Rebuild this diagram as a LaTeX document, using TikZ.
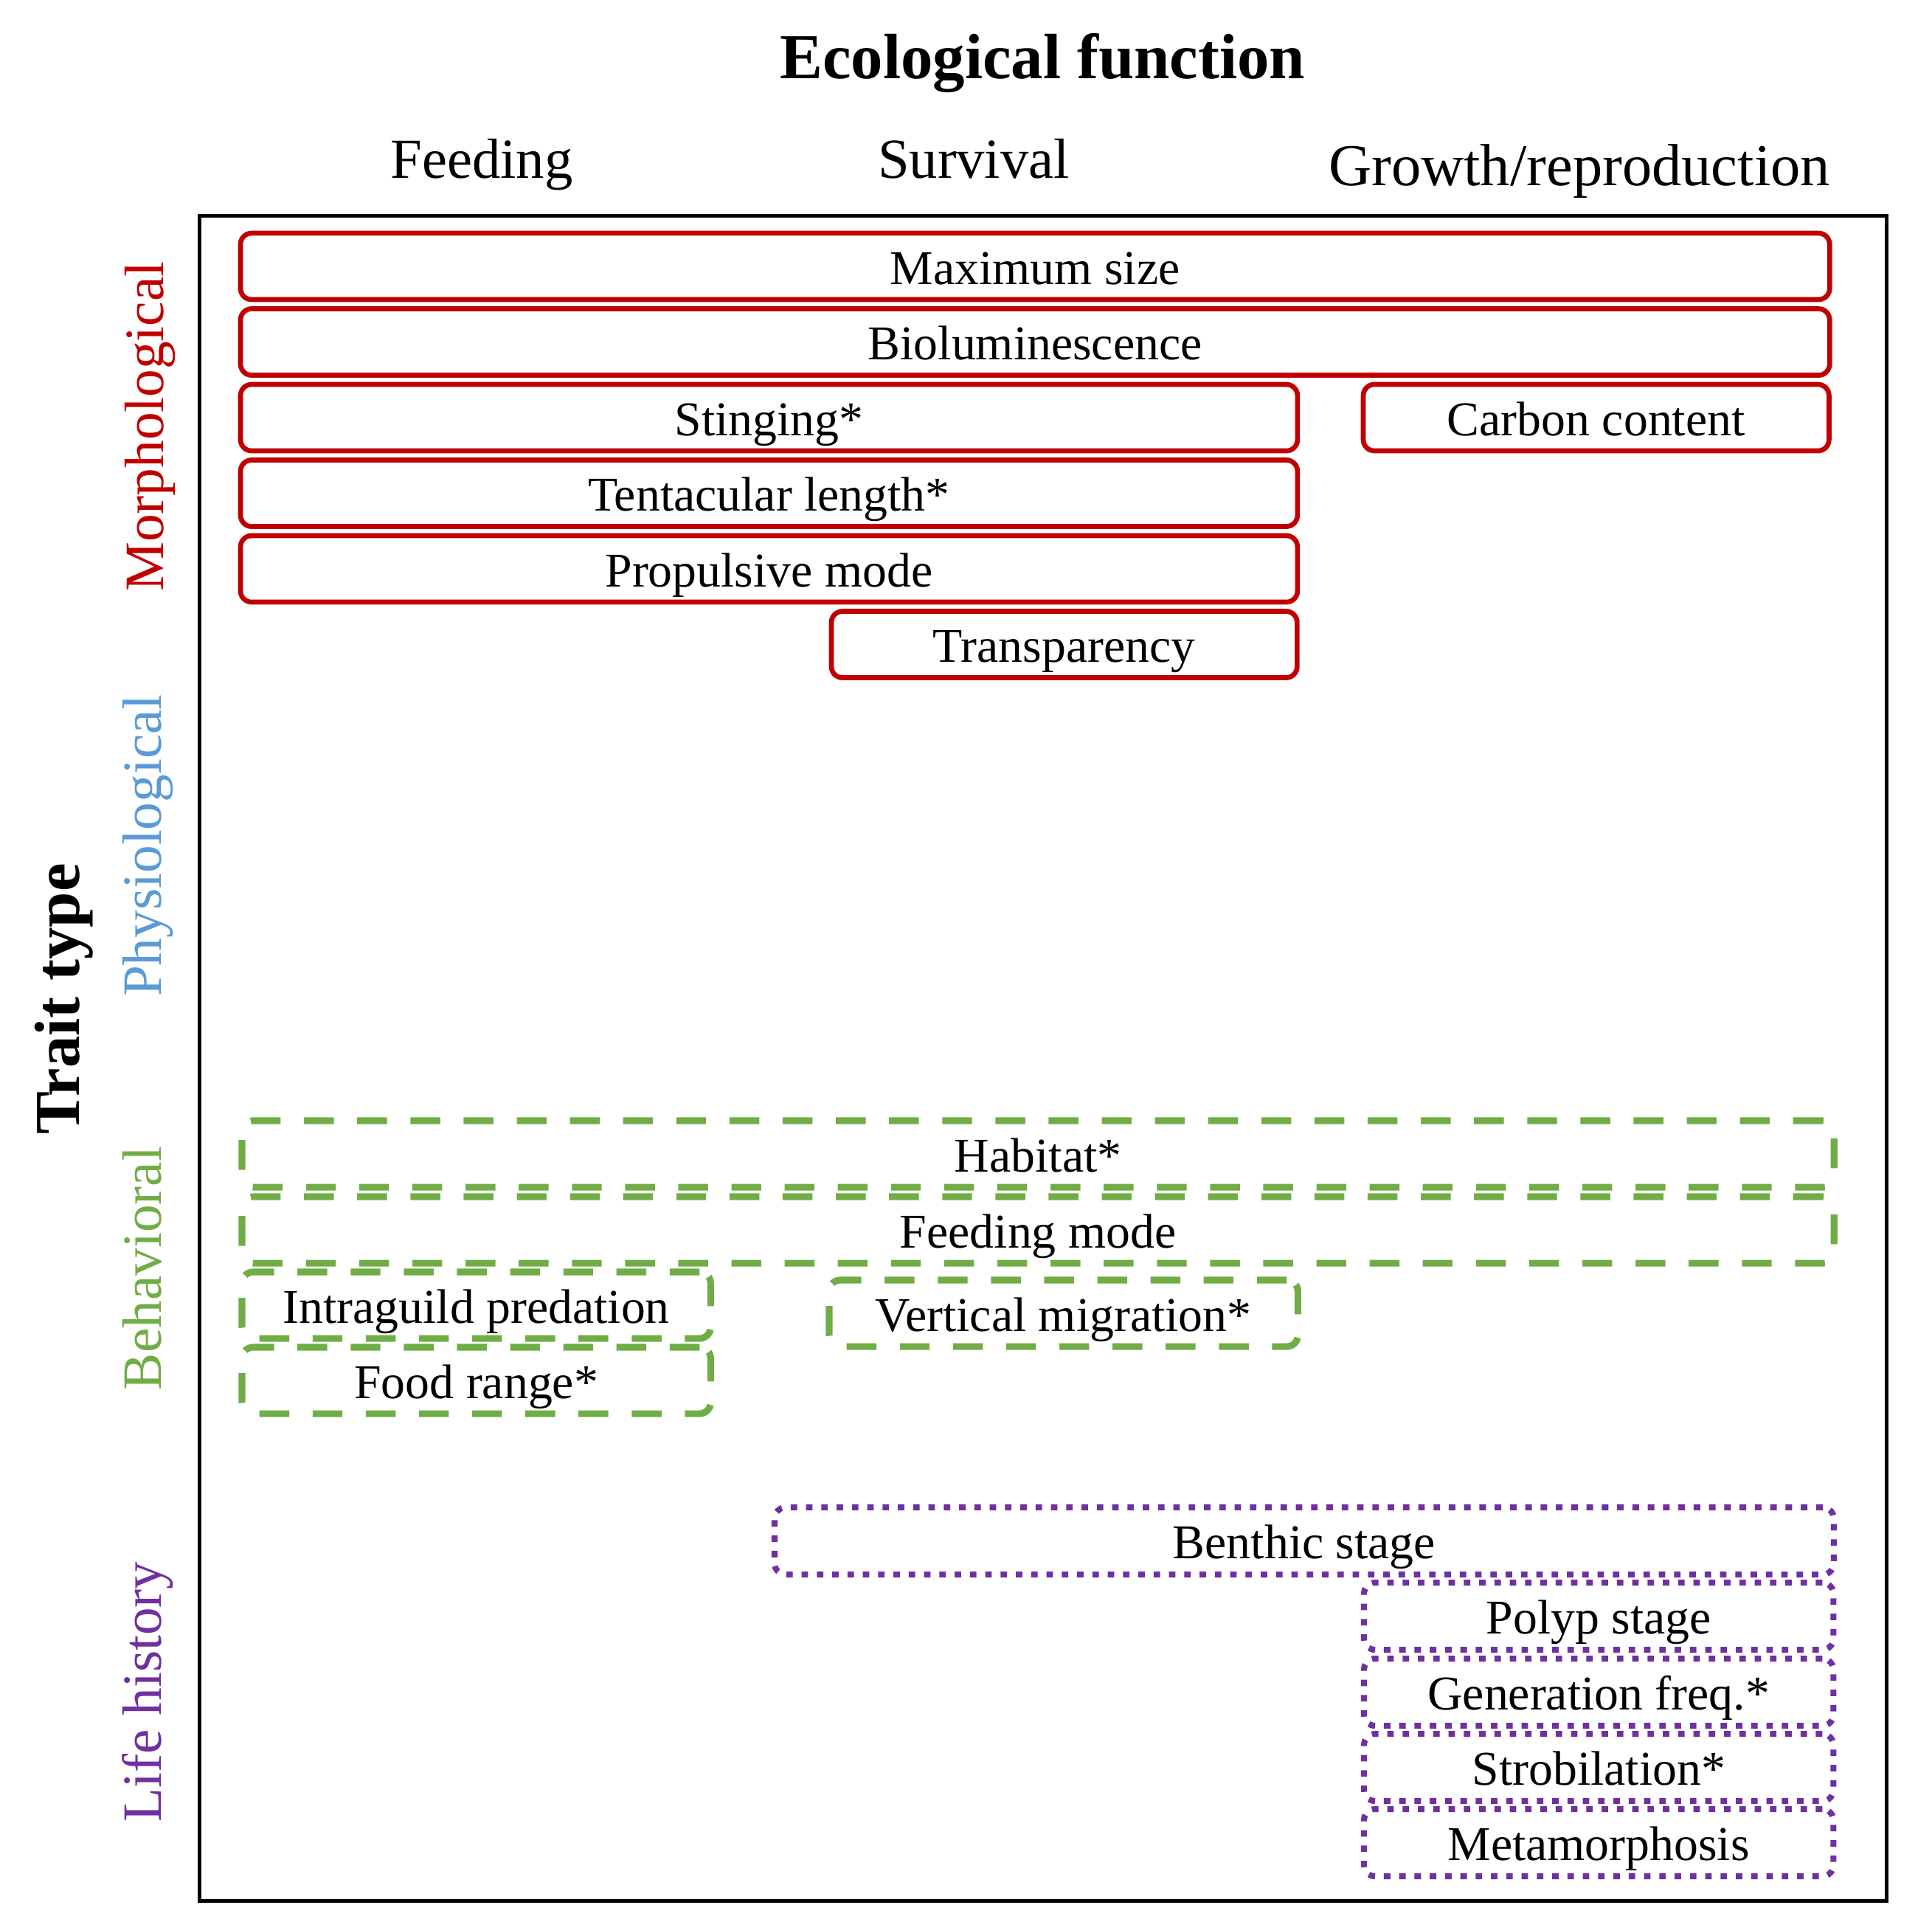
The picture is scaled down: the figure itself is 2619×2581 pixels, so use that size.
\documentclass[tikz,border=0pt]{standalone}
\usepackage{fontspec}
\setmainfont{Liberation Serif}
\usepackage{xcolor}
\usepackage{tikz}
\usetikzlibrary{positioning}
\definecolor{MorphRed}{HTML}{C00000}
\definecolor{PhysBlue}{HTML}{5B9BD5}
\definecolor{BehavGreen}{HTML}{70AD47}
\definecolor{LifePurple}{HTML}{7030A0}
\newcommand{\cellfont}{\fontsize{18.7}{22}\selectfont}
\newcommand{\colfont}{\fontsize{21.8}{26}\selectfont}
\newcommand{\sidefont}{\fontsize{21.4}{26}\selectfont}
\newcommand{\bigfont}{\fontsize{24.7}{29}\selectfont\bfseries}

\begin{document}
\begin{tikzpicture}[
  x=0.01cm, y=-0.01cm,
  cell/.style={rounded corners=4.3pt,inner sep=0pt,outer sep=0pt,anchor=north west,
    minimum height=0.9cm,font=\cellfont,text height=13.8pt,text depth=0pt},
  morph/.style={cell,draw=MorphRed,line width=1.9pt},
  behav/.style={cell,draw=BehavGreen,line width=2.6pt,dash pattern=on 11.5pt off 9pt},
  life/.style={cell,draw=LifePurple,line width=2.3pt,dash pattern=on 2.5pt off 3.4pt,minimum height=0.91cm},
  header/.style={anchor=base,font=\colfont},
  typelabel/.style={rotate=90,anchor=base,font=\sidefont}
]
  \useasboundingbox (0,0) rectangle (2619,2581);

  % axis titles
  \node[anchor=base,font=\bigfont] (ecofun) at (1413,106) {Ecological function};
  \node[anchor=base,font=\bigfont,rotate=90] (traittype) at (107,1354) {Trait type};
  \node[header] (feeding) at (653,241) {Feeding};
  \node[header] (survival) at (1320,241) {Survival};
  \node[header,font=\fontsize{22.9}{27}\selectfont] (growth) at (2141,251) {Growth/reproduction};

  \node[typelabel,text=MorphRed] (morphlab) at (221,578) {Morphological};
  \node[typelabel,text=PhysBlue] (physlab) at (218,1146) {Physiological};
  \node[typelabel,text=BehavGreen] (behavlab) at (218,1719) {Behavioral};
  \node[typelabel,text=LifePurple] (lifelab) at (218,2293) {Life history};

  \draw[line width=1.42pt] (270.5,292.5) rectangle (2557.5,2576);

  % morphological traits
  \node[morph,minimum width=21.53cm] (maxsize) at (326,316) {Maximum size};
  \node[morph,minimum width=21.53cm] (biolum) at (326,418.5) {Bioluminescence};
  \node[morph,minimum width=14.32cm] (sting) at (326,521) {Stinging*};
  \node[morph,minimum width=6.31cm] (carbon) at (1848,521) {Carbon content};
  \node[morph,minimum width=14.32cm] (tentacle) at (326,623.5) {Tentacular length*};
  \node[morph,minimum width=14.32cm] (propulsion) at (326,726) {Propulsive mode};
  \node[morph,minimum width=6.31cm] (transp) at (1127,828.5) {Transparency};

  % behavioral traits
  \node[behav,minimum width=21.57cm] (habitat) at (328,1519) {Habitat*};
  \node[behav,minimum width=21.57cm] (feedmode) at (328,1622) {Feeding mode};
  \node[behav,minimum width=6.35cm] (intraguild) at (328,1724) {Intraguild predation};
  \node[behav,minimum width=6.35cm] (vertmig) at (1124,1735) {Vertical migration*};
  \node[behav,minimum width=6.35cm] (foodrange) at (328,1826) {Food range*};

  % life history traits
  \node[life,minimum width=14.35cm] (benthic) at (1050,2043) {Benthic stage};
  \node[life,minimum width=6.36cm] (polyp) at (1849,2145) {Polyp stage};
  \node[life,minimum width=6.36cm] (genfreq) at (1849,2248) {Generation freq.*};
  \node[life,minimum width=6.36cm] (strobil) at (1849,2350) {Strobilation*};
  \node[life,minimum width=6.36cm] (metamorph) at (1849,2452) {Metamorphosis};
\end{tikzpicture}
\end{document}
